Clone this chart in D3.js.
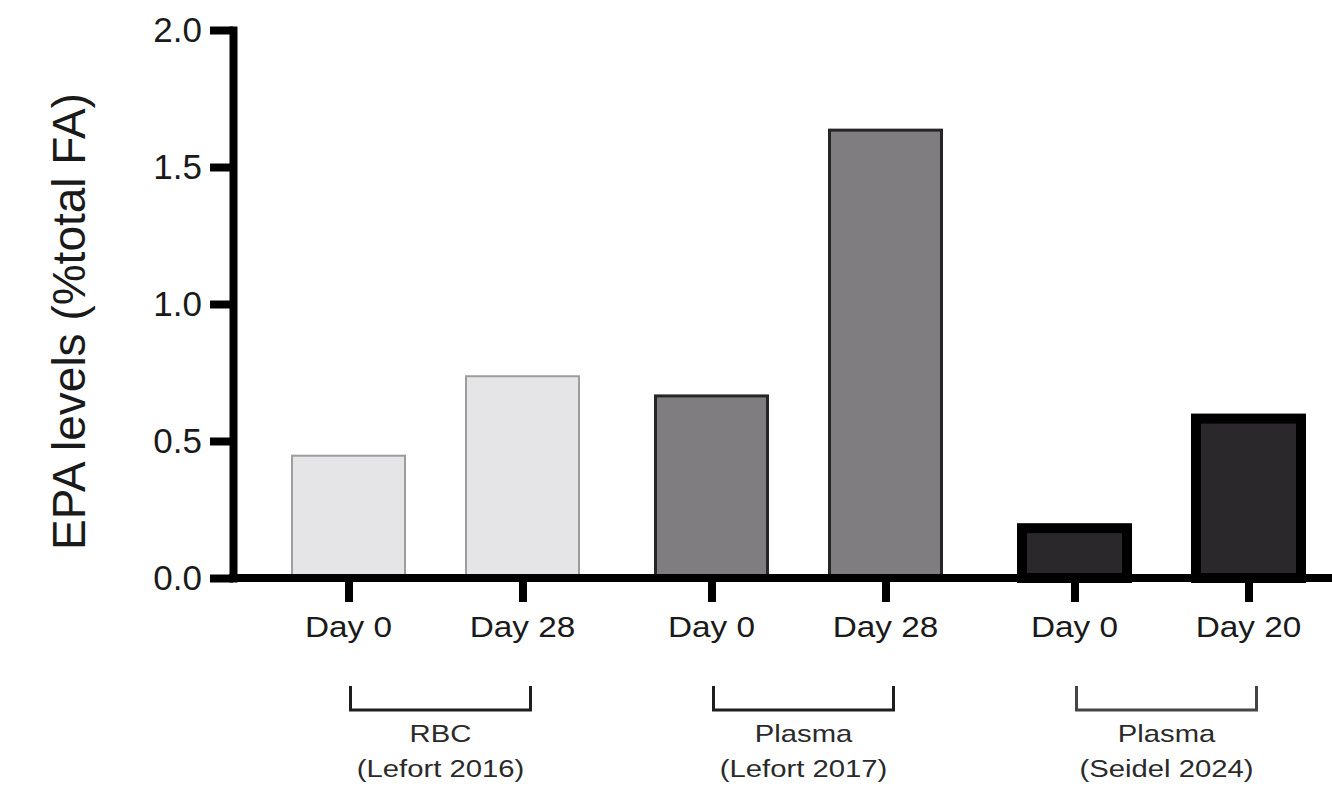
<!DOCTYPE html>
<html>
<head>
<meta charset="utf-8">
<script src="https://cdn.jsdelivr.net/npm/d3@7/dist/d3.min.js"></script>
<style>
  html, body { margin: 0; padding: 0; background: #ffffff; }
  svg { display: block; }
  text { font-family: "Liberation Sans", Arial, Helvetica, sans-serif; }
</style>
</head>
<body>
<svg id="chart" width="1332" height="790"></svg>
<script>
// ---- data ----
const categories = ["Day 0", "Day 28", "Day 0", "Day 28", "Day 0", "Day 20"];
const groupOf = [0, 0, 1, 1, 2, 2];
const values = [0.45, 0.74, 0.67, 1.64, 0.20, 0.60];
const groupNames = ["RBC", "Plasma", "Plasma"];
const groupSources = ["(Lefort 2016)", "(Lefort 2017)", "(Seidel 2024)"];
const yTicks = [0, 0.5, 1.0, 1.5, 2.0];
const yTitle = "EPA levels (%total FA)";

// ---- styles per group ----
const groupFill = ["#e5e5e7", "#7f7d80", "#2a282a"];
const groupStroke = ["#9d9d9d", "#262626", "#000000"];
const groupStrokeW = [2, 3, 10];

const W = 1332, H = 790;
const axisX = 233, y0 = 578, yTop = 30;

const svg = d3.select("#chart");

const y = d3.scaleLinear().domain([0, 2]).range([y0, yTop]);

const groupScale = d3.scaleBand().domain([0, 1, 2]).range([291, 291 + 3 * 363]).padding(0);
const innerScale = d3.scaleBand().domain([0, 1]).range([0, 289]).paddingInner(0.339).paddingOuter(0);

const barIdx = d3.range(values.length);
const barLeft = i => groupScale(groupOf[i]) + innerScale(i % 2);
const bw = innerScale.bandwidth();

// tick scale for the x axis (bar centres)
const xTick = d3.scaleOrdinal().domain(barIdx).range(barIdx.map(i => barLeft(i) + bw / 2));

// ---- bars (stroke drawn inside the bar outline) ----
svg.append("g").selectAll("rect")
  .data(barIdx)
  .join("rect")
  .attr("x", i => barLeft(i) + groupStrokeW[groupOf[i]] / 2)
  .attr("y", i => y(values[i]) + groupStrokeW[groupOf[i]] / 2)
  .attr("width", i => bw - groupStrokeW[groupOf[i]])
  .attr("height", i => y0 - y(values[i]) - groupStrokeW[groupOf[i]] / 2)
  .attr("fill", i => groupFill[groupOf[i]])
  .attr("stroke", i => groupStroke[groupOf[i]])
  .attr("stroke-width", i => groupStrokeW[groupOf[i]]);

// ---- y axis ----
const yAxis = svg.append("g")
  .attr("transform", `translate(${axisX},0)`)
  .call(d3.axisLeft(y).tickValues(yTicks).tickFormat(d3.format(".1f")).tickSize(23).tickSizeOuter(0).tickPadding(8));
yAxis.select(".domain").attr("stroke", "#000").attr("stroke-width", 8).attr("stroke-linecap", "square");
yAxis.selectAll(".tick line").attr("stroke", "#000").attr("stroke-width", 8);
yAxis.selectAll(".tick text")
  .attr("font-size", 35)
  .attr("fill", "#1a1a1a")
  .attr("font-family", "'Liberation Sans', Arial, sans-serif");

// ---- x axis ----
svg.append("line")
  .attr("x1", axisX - 4).attr("x2", W)
  .attr("y1", y0).attr("y2", y0)
  .attr("stroke", "#000").attr("stroke-width", 8);

const xAxis = svg.append("g")
  .attr("transform", `translate(0,${y0})`)
  .call(d3.axisBottom(xTick).tickSize(24).tickFormat(() => ""));
xAxis.select(".domain").remove();
xAxis.selectAll(".tick line").attr("stroke", "#000").attr("stroke-width", 8);

// category labels (slightly stretched horizontally, as in reference)
svg.append("g").selectAll("text")
  .data(barIdx)
  .join("text")
  .attr("transform", i => `translate(${xTick(i)},637) scale(1.15,1)`)
  .attr("text-anchor", "middle")
  .attr("font-size", 29)
  .attr("fill", "#1a1a1a")
  .text(i => categories[i]);

// ---- group brackets ----
const gIdx = d3.range(groupNames.length);
const gCenter = g => groupScale(g) + innerScale(0) + (innerScale(1) + bw - innerScale(0)) / 2 + 5;
const bracket = svg.append("g");
bracket.selectAll("path")
  .data(gIdx)
  .join("path")
  .attr("d", g => {
    const c = gCenter(g);
    return `M${c - 90},686 V710 H${c + 90} V686`;
  })
  .attr("fill", "none")
  .attr("stroke", g => g === 2 ? "#444" : "#1e1e1e")
  .attr("stroke-width", 3);

bracket.selectAll("text.gname")
  .data(gIdx)
  .join("text")
  .attr("class", "gname")
  .attr("transform", g => `translate(${gCenter(g)},742) scale(1.22,1)`)
  .attr("text-anchor", "middle")
  .attr("font-size", 24)
  .attr("fill", "#2a2a2a")
  .text(g => groupNames[g]);

bracket.selectAll("text.gsrc")
  .data(gIdx)
  .join("text")
  .attr("class", "gsrc")
  .attr("transform", g => `translate(${gCenter(g)},777) scale(1.22,1)`)
  .attr("text-anchor", "middle")
  .attr("font-size", 24)
  .attr("fill", "#2a2a2a")
  .text(g => groupSources[g]);

// ---- y title ----
svg.append("text")
  .attr("transform", `translate(85,${(88 + 555) / 2}) rotate(-90)`)
  .attr("text-anchor", "middle")
  .attr("font-size", 46)
  .attr("fill", "#1a1a1a")
  .text(yTitle);
</script>
</body>
</html>
